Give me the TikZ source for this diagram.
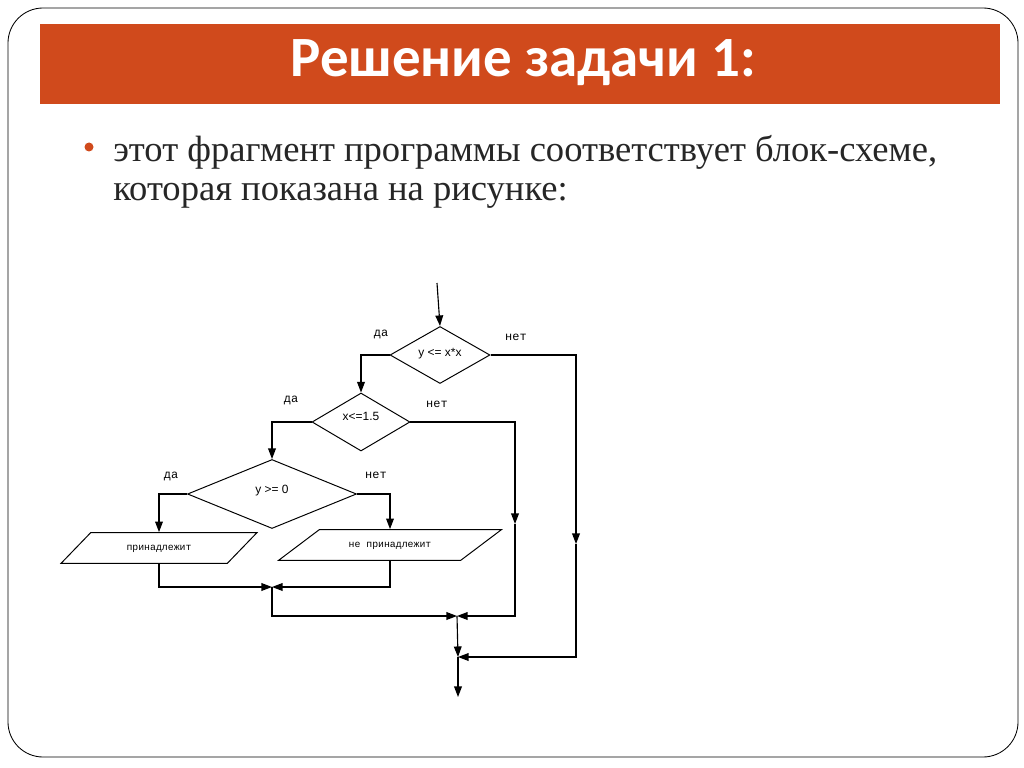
\documentclass[tikz,border=0pt]{standalone}
\usepackage{fontspec}
\setmainfont{Liberation Serif}
\newfontfamily\titlefont{Carlito}
\newfontfamily\monofont{Liberation Mono}
\newfontfamily\condfont{Liberation Sans}
\usetikzlibrary{shapes.geometric,arrows.meta}
\definecolor{titlebar}{RGB}{208,74,28}
\definecolor{bodytext}{RGB}{38,38,38}

\begin{document}
\begin{tikzpicture}[x=0.025cm,y=-0.025cm,
    line/.style={draw,line width=0.8pt},
    flow/.style={line,-{Triangle[length=7.5pt,width=5.5pt]}},
    cond/.style={draw,diamond,line width=0.7pt,inner sep=0pt,font=\condfont\fontsize{8.5}{9}\selectfont},
    io/.style={draw,trapezium,trapezium stretches body,line width=0.7pt,inner xsep=0pt,inner ysep=7.7pt,
        text height=5pt,text depth=1.5pt,font=\monofont\fontsize{7}{8}\selectfont},
    yesno/.style={font=\monofont\fontsize{8.5}{9}\selectfont},
    bullettext/.style={anchor=base west,inner sep=0pt,text=bodytext,font=\fontsize{26}{28}\selectfont}]
                \useasboundingbox (0,0) rectangle (1024,768);
                \draw[rounded corners=0.875cm,line width=0.6pt] (8,8) rectangle (1018,757);
                \fill[titlebar] (40,24) rectangle (1000,104);
                \node[text=white,font=\titlefont\bfseries\fontsize{40.5}{44}\selectfont] (title) at (523,63) {Решение задачи 1:};
                \fill[titlebar] (89,147) circle (4.5);
                \node[bullettext] (line1) at (113,162) {этот фрагмент программы соответствует блок-схеме,};
                \node[bullettext] (line2) at (113,200) {которая показана на рисунке:};
                % decisions
                \node[cond,minimum width=100*0.025cm,minimum height=57*0.025cm] (d1) at (440,355) {\raisebox{4pt}{y <= x*x}};
                \node[cond,minimum width=98*0.025cm,minimum height=58*0.025cm] (d2) at (361,422) {\raisebox{8pt}{x<=1.5}};
                \node[cond,minimum width=169*0.025cm,minimum height=69*0.025cm] (d3) at (272,494) {\raisebox{6pt}{y >= 0}};
                % output blocks
                \node[io,trapezium left angle=46,trapezium right angle=134,minimum width=196*0.025cm] (p1) at (159,548) {принадлежит};
                \node[io,trapezium left angle=37,trapezium right angle=143,minimum width=223*0.025cm] (p2) at (390,545) {не принадлежит};
                % labels
                \node[yesno] (da1) at (381,334) {да};
                \node[yesno] (net1) at (516,337) {нет};
                \node[yesno] (da2) at (291,400) {да};
                \node[yesno] (net2) at (437,404) {нет};
                \node[yesno] (da3) at (171,476) {да};
                \node[yesno] (net3) at (376,475) {нет};
                % points on the lines
                \coordinate (start) at (437,283);
                \coordinate (m1) at (515,524);
                \coordinate (m2) at (576,544);
                \coordinate (j1) at (272,587);
                \coordinate (j2) at (457,616);
                \coordinate (j3) at (458,657);
                \coordinate (stop) at (458,697);
                \draw[flow] (start) -- (d1.north);
                \draw[flow] (d1.west) -| (d2.north);
                \draw[flow] (d1.east) -| (m2);
                \draw[flow] (m2) |- (j3);
                \draw[flow] (d2.west) -| (d3.north);
                \draw[flow] (d2.east) -| (m1);
                \draw[flow] (m1) |- (j2);
                \draw[flow] (d3.west) -| (p1.north);
                \draw[flow] (d3.east) -| (p2.north);
                \draw[flow] (p1.south) |- (j1);
                \draw[flow] (p2.south) |- (j1);
                \draw[flow] (j1) |- (j2);
                \draw[flow] (j2) -- (j3);
                \draw[flow] (j3) -- (stop);
            \end{tikzpicture}
\end{document}
